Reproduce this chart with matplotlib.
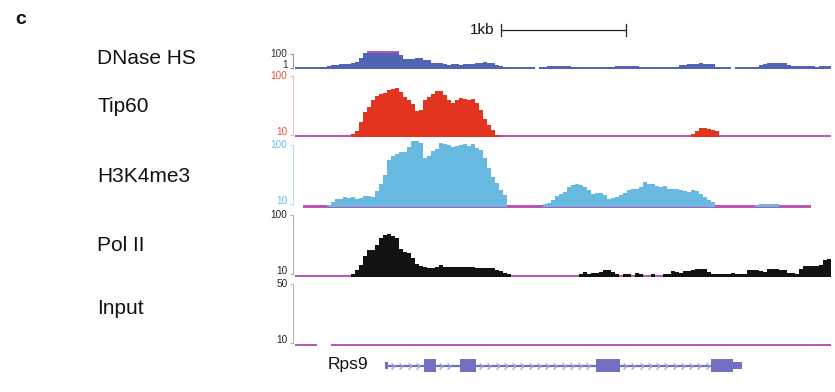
import numpy as np
import matplotlib
matplotlib.use("Agg")
import matplotlib.pyplot as plt
from matplotlib.path import Path
from matplotlib.ticker import NullLocator, FixedLocator

plt.rcParams["font.family"] = ["Liberation Sans", "DejaVu Sans"]

# ---------------------------------------------------------------- data
BIN_BP = 32            # signal bin width (bp)
REGION_BP = 4288       # width of the displayed locus (bp)

# each track: list of (first bin, per-bin signal); 0 = no signal
dnase_runs = [
    (0, [1.26, 1.26, 1.3, 1.26, 1.2, 1.26, 1.3, 1.26,
         2.2, 2.4, 2.4, 3.4, 3.2, 3.4, 5.0, 7.9, 30, 150,
         400, 400, 400, 400, 400, 400, 400, 400,
         72, 17.5, 17.5, 22, 26.8, 26.8, 13.9, 13.9, 6.0, 4.7, 4.7,
         3.4, 3.0, 3.7, 3.4, 3.0, 3.4, 3.7, 3.4,
         5.2, 5.7, 6.2, 5.7, 5.2, 2.4, 1.9,
         1.53, 1.5, 1.6, 1.53, 1.5, 1.53, 1.6, 1.5]),
    (61, [1.26, 1.26, 1.93, 1.9, 2.0, 1.93, 1.9, 1.93,
          1.26, 1.2, 1.26, 1.3, 1.26, 1.26, 1.2, 1.26, 1.3, 1.26, 1.5,
          1.93, 2.0, 1.9, 1.93, 2.0, 1.93,
          1.53, 1.6, 1.53, 1.5, 1.53, 1.6, 1.53, 1.5, 1.53, 1.6,
          2.4, 2.4, 3.4, 3.7, 4.2, 4.5, 4.2, 3.7, 3.4,
          1.53, 1.5, 1.53, 1.5]),
    (110, [1.26, 1.26, 1.3, 1.26, 1.26, 1.6, 2.4, 3.7,
           4.7, 5.2, 5.7, 5.2, 4.7, 2.4,
           1.8, 1.7, 1.9, 1.7, 1.8, 1.7, 1.6, 1.9, 1.8, 1.7]),
]

tip60_runs = [
    (14, [10.4, 11.7, 16.6, 24.5, 29.8, 39.2, 45.8, 49.5, 51.5, 57.9,
          60.2, 62.6, 53.5, 44.0, 39.2, 33.5, 25.5, 26.5, 39.2, 44.0,
          49.5, 55.7, 55.7, 47.6, 39.2, 34.9, 39.2, 42.4, 40.8, 39.2,
          40.8, 34.9, 26.5, 18.7, 14.8, 12.2, 10.0]),
    (99, [10.6, 11.8, 13.1, 13.1, 12.4, 12.0, 11.5]),
]
tip60_cov = [(0, 4288)]

h3k4me3_runs = [
    (8, [9.6, 10.8, 12.2, 12.4, 13.2, 12.6, 13.2, 12.2, 12.6, 13.7,
         13.7, 13.2, 16.7, 22.0, 31.3, 56.5, 66.2, 72.9, 77.4, 77.4,
         94.4, 119, 119, 110, 61.3, 66.2, 80.4, 87.0, 110, 106,
         102, 94.4, 98.2, 102, 106, 98.2, 108, 90.7, 83.7, 61.3,
         41.2, 28.9, 22.8, 17.5, 14.3]),
    (62, [10.0, 10.5, 11.7, 13.7, 15.1, 16.2, 19.9, 21.5, 22.0, 21.1,
          19.5, 17.5, 15.1, 15.4, 15.4, 14.3, 12.2, 12.6, 13.2, 14.3,
          15.7, 17.5, 18.1, 18.1, 19.5, 23.8, 22.0, 22.0, 20.3, 19.5,
          20.3, 18.1, 18.4, 18.1, 17.5, 17.0, 16.1, 17.5, 16.7, 14.8,
          13.2, 11.7, 10.8]),
    (115, [9.6, 10.0, 10.0, 10.0, 10.0, 10.0]),
]
h3k4me3_cov = [(64, 4128)]

pol2_runs = [
    (14, [10.0, 11.5, 14.0, 19.9, 25.2, 25.2, 30.7, 40.4, 45.3, 46.7,
          44.6, 39.7, 26.2, 23.3, 22.7, 18.4, 14.5, 13.2, 12.9, 12.6,
          12.6, 12.9, 13.8, 13.1, 13.1, 13.1, 13.1, 12.9, 12.8, 12.8,
          12.8, 12.4, 12.3, 12.3, 12.6, 12.2, 11.5, 11.0, 10.4, 9.8]),
    (71, [10.0, 10.5, 9.7, 10.2, 10.2, 10.7, 11.5, 11.3, 10.5, 9.7,
          0, 9.8, 9.9, 0, 10.2, 10.0, 0, 0, 9.8, 0,
          0, 9.8, 10.0, 11.0, 10.7, 10.2, 11.0, 11.0, 11.5, 11.8,
          11.8, 11.8, 10.7, 9.8, 9.8, 9.8, 9.8, 10.0, 10.2, 10.0,
          10.0, 10.0, 11.5, 11.5, 11.5, 11.0, 10.7, 11.8, 12.1, 12.0,
          11.5, 11.5, 10.2, 10.2, 10.0, 12.0, 13.7, 13.7, 13.5, 13.5,
          14.0, 17.0, 17.9]),
]
pol2_cov = [(0, 4288)]

input_runs = []
input_cov = [(0, 176), (288, 4288)]

track_names = ["DNase HS", "Tip60", "H3K4me3", "Pol II", "Input"]
track_ticks = [(1, 100), (10, 100), (10, 100), (10, 100), (10, 50)]

# Rps9 gene model (bp)
gene_name = "Rps9"
gene_span = (720, 3576)
gene_exons = [(1032, 1128), (1320, 1448), (2408, 2600), (3328, 3504)]
gene_utrs = [(720, 744), (3504, 3576)]

scale_bar = (1648, 1000, "1kb")

# ---------------------------------------------------------------- style
W_PX, H_PX = 835, 392
LEFT_PX, RIGHT_PX = 295, 831
MAGENTA = "#b857b4"
GENE = "#7470c1"
CHEVRON = "#a9a5dd"

fig = plt.figure(figsize=(W_PX / 100, H_PX / 100), dpi=100)


def add_axes_px(top, bottom):
    return fig.add_axes([LEFT_PX / W_PX, 1 - bottom / H_PX,
                         (RIGHT_PX - LEFT_PX) / W_PX, (bottom - top) / H_PX])


def track(top, bottom, ticks, tick_px, color, spine_color, label_color,
          runs, cov, name, name_y, clip_cap=False, baseline=True):
    ax = add_axes_px(top, bottom)
    ax.set_facecolor("none")
    ax.set_yscale("log")
    lo, hi = ticks
    lo_px, hi_px = tick_px
    per_px = (np.log10(hi) - np.log10(lo)) / (lo_px - hi_px)
    ymin = 10 ** (np.log10(lo) - (bottom - lo_px) * per_px)
    ymax = 10 ** (np.log10(hi) + (hi_px - top) * per_px)
    ax.set_ylim(ymin, ymax)
    ax.set_xlim(0, REGION_BP)

    frac = 2.5 / (bottom - top)
    if baseline:
        for s, e in cov:
            ax.axvspan(s, e, ymin=0, ymax=frac, color=MAGENTA, lw=0, zorder=2)

    for start, vals in runs:
        v = np.asarray(vals, float)
        v = np.where(v > 0, v, ymin)
        edges = (start + np.arange(len(v) + 1)) * BIN_BP
        ax.stairs(np.minimum(v, ymax), edges, baseline=ymin, fill=True,
                  color=color, lw=0, zorder=3)
        if clip_cap:
            cap = 1.8 / (bottom - top)
            for i, val in enumerate(v):
                if val > ymax:
                    ax.axvspan(edges[i], edges[i + 1], ymin=1 - cap, ymax=1,
                               color=MAGENTA, lw=0, zorder=4)

    for side in ("top", "right", "bottom"):
        ax.spines[side].set_visible(False)
    ax.spines["left"].set_position(("outward", 1.4))
    ax.spines["left"].set_bounds(lo, hi)
    ax.spines["left"].set_color(spine_color)
    ax.spines["left"].set_linewidth(0.8)
    ax.yaxis.set_major_locator(FixedLocator([lo, hi]))
    ax.yaxis.set_minor_locator(NullLocator())
    ax.set_yticklabels([str(lo), str(hi)])
    ax.tick_params(axis="y", length=2.2, width=0.8, color=spine_color,
                   labelsize=7.2, labelcolor=label_color, pad=1.8)
    labels = ax.get_yticklabels()
    labels[0].set_va("baseline")
    labels[1].set_va("center")
    ax.set_xticks([])

    fig.text(97 / W_PX, 1 - name_y / H_PX, name, fontsize=15,
             ha="left", va="center_baseline", color="#111111")
    return ax


track(51, 68.7, track_ticks[0], (68, 54), "#5163b3", "#9a9a9a", "#333333",
      dnase_runs, [], track_names[0], 56, clip_cap=True, baseline=False)
track(74, 137.5, track_ticks[1], (135, 76), "#e2341f", "#f2b8b0", "#e8503e",
      tip60_runs, tip60_cov, track_names[1], 105)
track(140, 207.5, track_ticks[2], (204, 145.5), "#67b9df", "#b6dcef", "#6bbbe0",
      h3k4me3_runs, h3k4me3_cov, track_names[2], 175)
track(212, 277, track_ticks[3], (273.5, 215), "#121212", "#b5b5b5", "#222222",
      pol2_runs, pol2_cov, track_names[3], 243)
track(282, 346, track_ticks[4], (343, 284.3), "#121212", "#b5b5b5", "#222222",
      input_runs, input_cov, track_names[4], 307)

# scale bar
sax = add_axes_px(20, 40)
sax.set_xlim(0, REGION_BP)
sax.set_ylim(0, 1)
sax.axis("off")
x0, length, txt = scale_bar
sax.plot([x0, x0 + length], [0.5, 0.5], color="#222222", lw=0.9)
sax.plot([x0, x0], [0.2, 0.8], color="#222222", lw=0.9)
sax.plot([x0 + length, x0 + length], [0.2, 0.8], color="#222222", lw=0.9)
sax.text(x0 - 50, 0.5, txt, ha="right", va="center", fontsize=11, color="#111111")

# gene model
gax = add_axes_px(355, 376)
gax.set_xlim(0, REGION_BP)
gax.set_ylim(0, 1)
gax.axis("off")
gax.plot(gene_span, [0.5, 0.5], color=GENE, lw=1.6, solid_capstyle="butt", zorder=2)
chev = Path([(-0.6, 1.0), (0.4, 0.0), (-0.6, -1.0)],
            [Path.MOVETO, Path.LINETO, Path.LINETO])
blocks = sorted(gene_exons + gene_utrs)
for (s0, e0), (s1, e1) in zip(blocks[:-1], blocks[1:]):
    xs = np.arange(e0 + 40, s1 - 20, 66)
    gax.plot(xs, np.full(len(xs), 0.5), ls="none", marker=chev, ms=4.5,
             mfc="none", mec=CHEVRON, mew=1.0, zorder=3)
for s, e in gene_exons:
    gax.add_patch(plt.Rectangle((s, 0.18), e - s, 0.64, color=GENE, lw=0, zorder=4))
for s, e in gene_utrs:
    gax.add_patch(plt.Rectangle((s, 0.33), e - s, 0.34, color=GENE, lw=0, zorder=4))
fig.text(368 / W_PX, 1 - 365 / H_PX, gene_name, fontsize=12.5,
         ha="right", va="center", color="#111111")

fig.text(15 / W_PX, 1 - 20 / H_PX, "c", fontsize=14, fontweight="bold",
         ha="left", va="center", color="#111111")

fig.savefig("out.png", dpi=100)
